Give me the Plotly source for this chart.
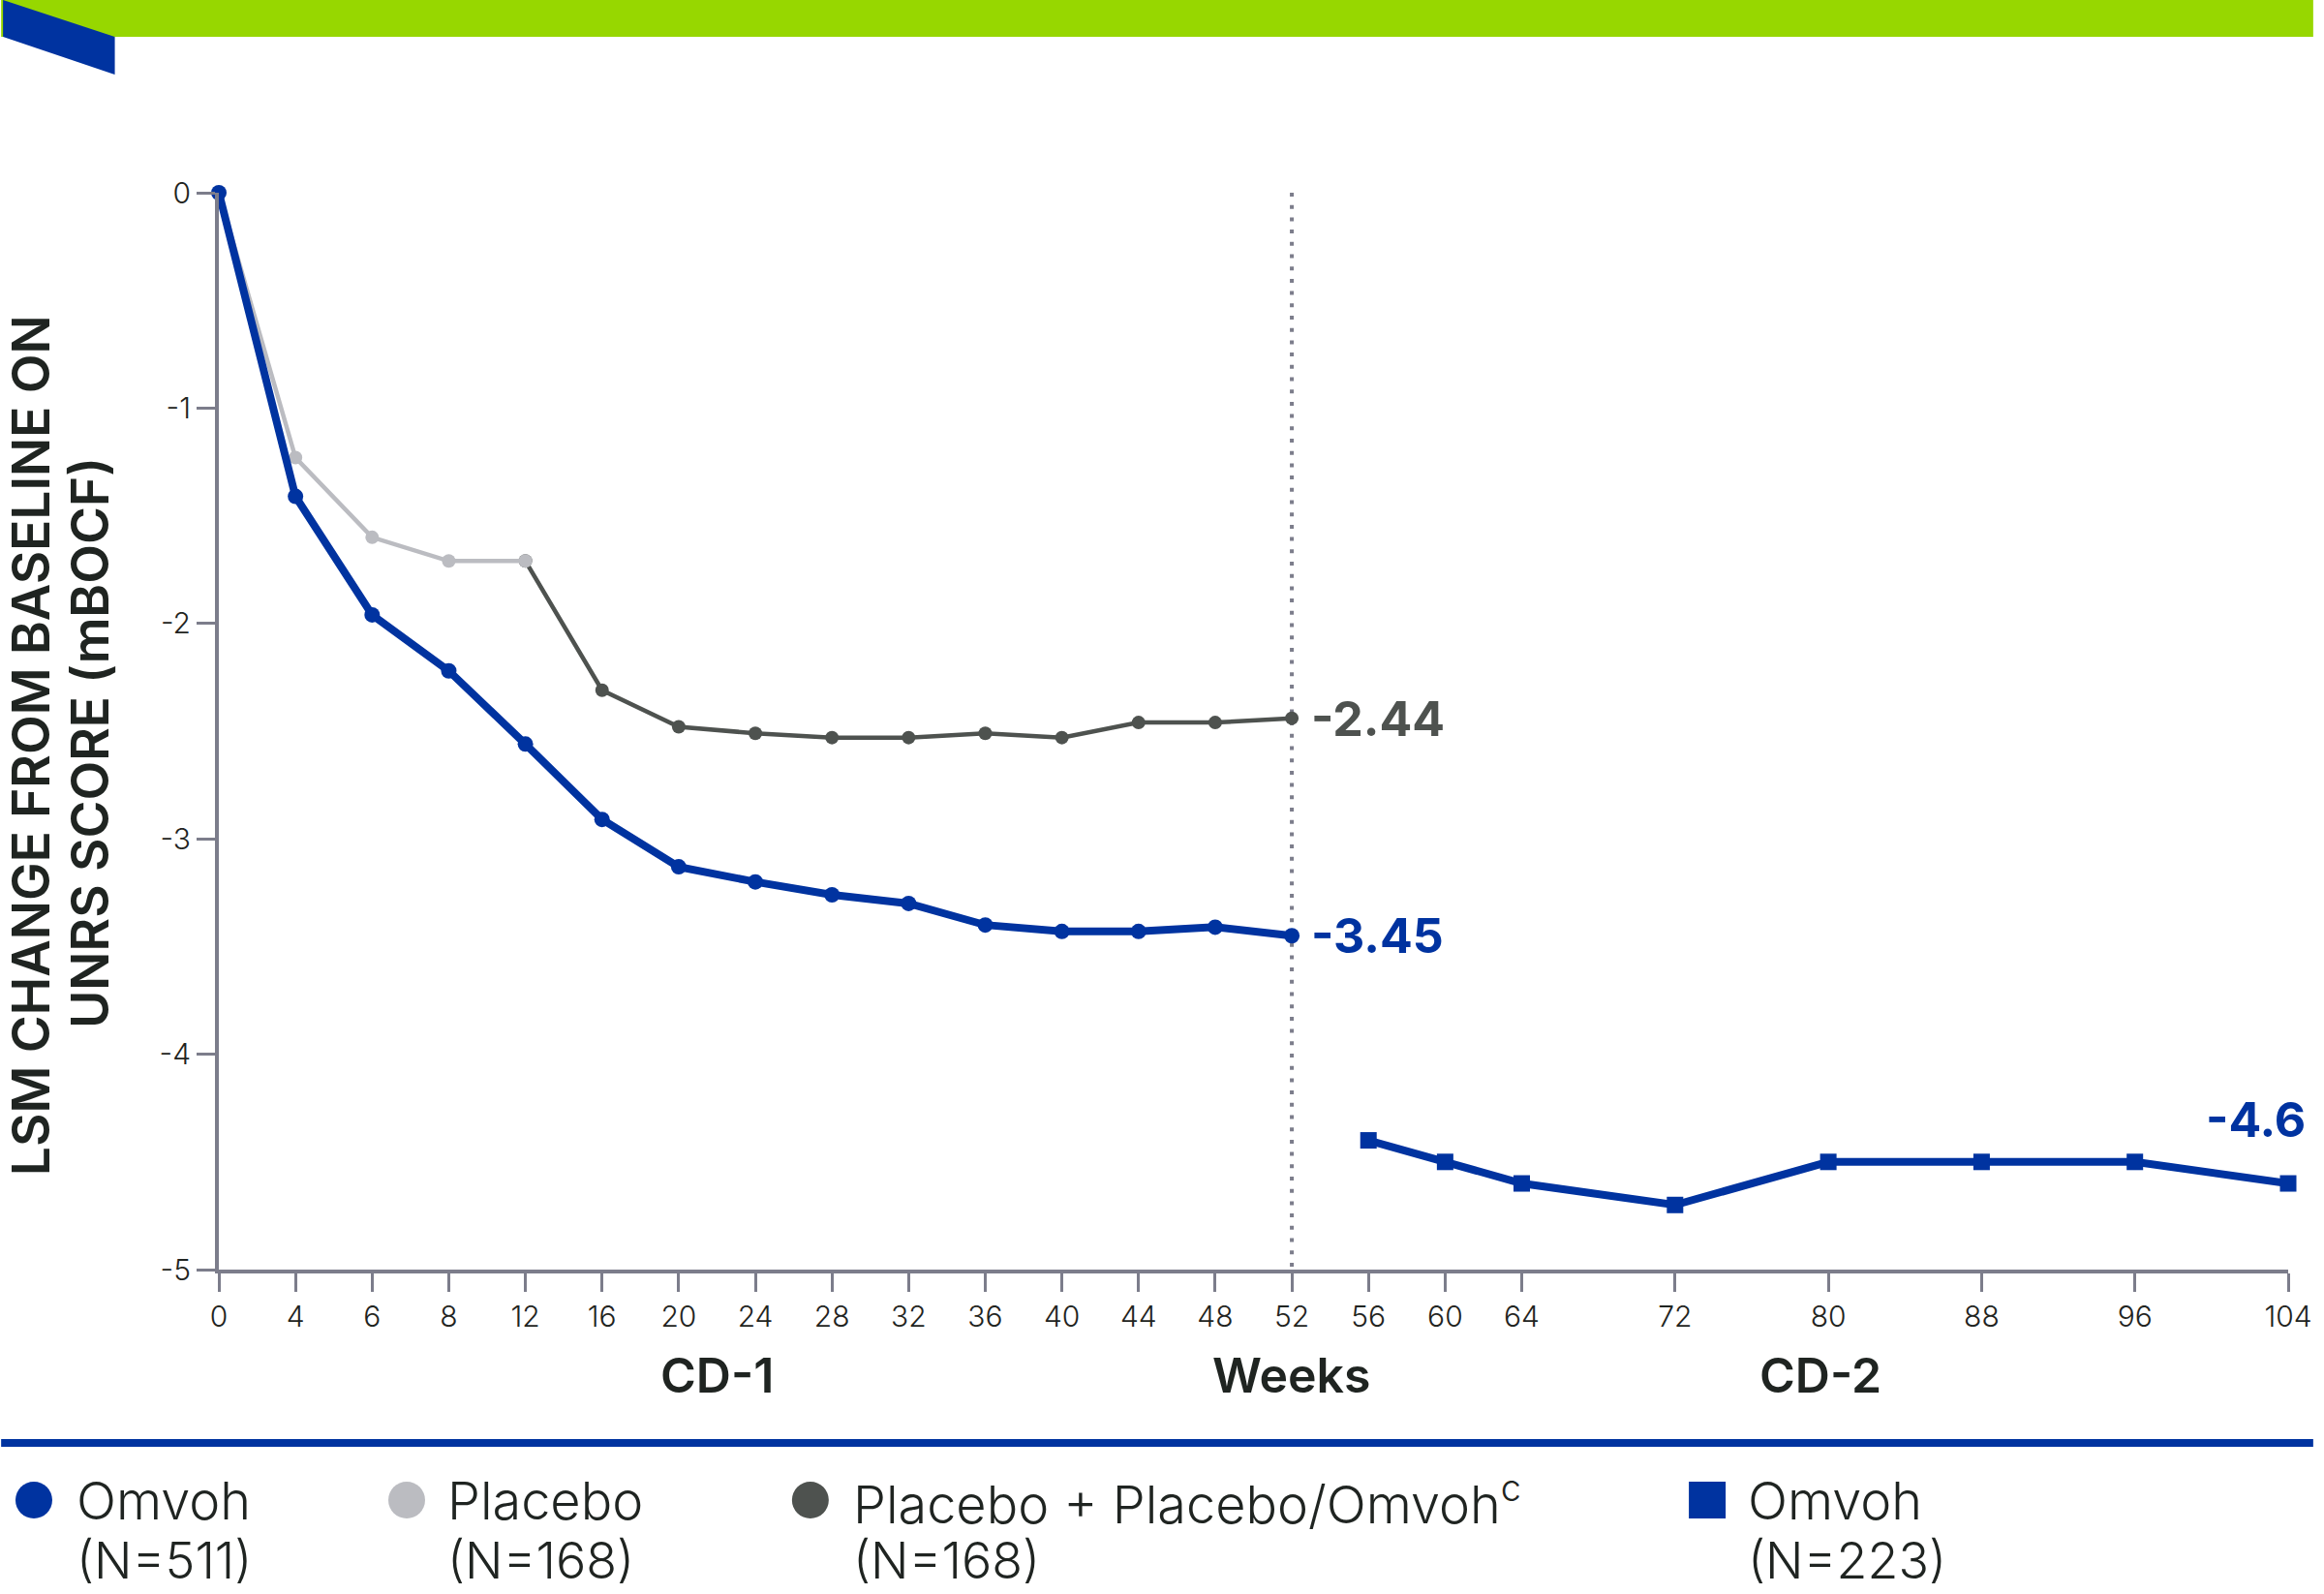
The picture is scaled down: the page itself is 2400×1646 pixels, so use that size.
import plotly.graph_objects as go

# ---- data ----
CD1_WEEKS = [0, 4, 6, 8, 12, 16, 20, 24, 28, 32, 36, 40, 44, 48, 52]
OMVOH_CD1 = [0, -1.41, -1.96, -2.22, -2.56, -2.91, -3.13, -3.20, -3.26, -3.30,
             -3.40, -3.43, -3.43, -3.41, -3.45]

PLACEBO_WEEKS = [0, 4, 6, 8, 12]
PLACEBO = [0, -1.23, -1.60, -1.71, -1.71]

PBO_OMV_WEEKS = [12, 16, 20, 24, 28, 32, 36, 40, 44, 48, 52]
PBO_OMV = [-1.71, -2.31, -2.48, -2.51, -2.53, -2.53, -2.51, -2.53, -2.46, -2.46, -2.44]

CD2_WEEKS = [56, 60, 64, 72, 80, 88, 96, 104]
OMVOH_CD2 = [-4.4, -4.5, -4.6, -4.7, -4.5, -4.5, -4.5, -4.6]

TICK_WEEKS = CD1_WEEKS + CD2_WEEKS
Y_TICKS = [0, -1, -2, -3, -4, -5]

LEGEND_NAMES = ["Omvoh", "Placebo", "Placebo + Placebo/Omvoh<sup>c</sup>", "Omvoh"]
LEGEND_N = [511, 168, 168, 223]

BLUE = "#0033A0"
GREEN = "#97D700"
LIGHT = "#BBBCC1"
DARK = "#4E524F"
AXIS = "#7C7D8B"
TEXT = "#1F2421"
FONT = "Inter, Lato, Open Sans, sans-serif"

W, H = 2400, 1646
L, R, T, B = 226, 26, 199, 335


def week_pos(w):
    # CD-1 weeks are evenly spaced as categories, CD-2 is scaled 4 weeks per slot
    if w <= 52:
        return CD1_WEEKS.index(w)
    return CD1_WEEKS.index(52) + (w - 52) / 4


def px_x(px):
    return (px - L) / (W - L - R)


def px_y(py):
    return (H - B - py) / (H - T - B)


fig = go.Figure()

fig.add_trace(go.Scatter(
    x=[week_pos(w) for w in PBO_OMV_WEEKS], y=PBO_OMV, mode="lines+markers",
    line=dict(color=DARK, width=4.5), marker=dict(color=DARK, size=14),
    cliponaxis=False, showlegend=False,
))
fig.add_trace(go.Scatter(
    x=[week_pos(w) for w in PLACEBO_WEEKS], y=PLACEBO, mode="lines+markers",
    line=dict(color=LIGHT, width=4.5), marker=dict(color=LIGHT, size=14),
    cliponaxis=False, showlegend=False,
))
fig.add_trace(go.Scatter(
    x=[week_pos(w) for w in CD1_WEEKS], y=OMVOH_CD1, mode="lines+markers",
    line=dict(color=BLUE, width=8), marker=dict(color=BLUE, size=16),
    cliponaxis=False, showlegend=False,
))
fig.add_trace(go.Scatter(
    x=[week_pos(w) for w in CD2_WEEKS], y=OMVOH_CD2, mode="lines+markers",
    line=dict(color=BLUE, width=8), marker=dict(color=BLUE, size=17, symbol="square"),
    cliponaxis=False, showlegend=False,
))

shapes = [
    # week 52 divider
    dict(type="line", xref="x", yref="y", x0=week_pos(52), x1=week_pos(52), y0=0, y1=-5,
         line=dict(color=AXIS, width=4, dash="4px,8.7px"), layer="below"),
    # header band
    dict(type="rect", xref="paper", yref="paper", x0=px_x(0), x1=px_x(W),
         y0=px_y(38), y1=px_y(0), fillcolor=GREEN, line_width=0),
    dict(type="path", xref="paper", yref="paper",
         path=(f"M {px_x(2)},{px_y(0)} L {px_x(118)},{px_y(38)} "
               f"L {px_x(118)},{px_y(77)} L {px_x(2)},{px_y(38)} Z"),
         fillcolor=BLUE, line_width=0),
    # separator above legend
    dict(type="rect", xref="paper", yref="paper", x0=px_x(0), x1=px_x(W),
         y0=px_y(1494), y1=px_y(1486), fillcolor=BLUE, line_width=0),
]

annotations = [
    dict(text="-2.44", x=week_pos(52), y=PBO_OMV[-1], xref="x", yref="y",
         xanchor="left", yanchor="middle", xshift=18, showarrow=False,
         font=dict(size=50, color=DARK, family=FONT, weight="bold")),
    dict(text="-3.45", x=week_pos(52), y=OMVOH_CD1[-1], xref="x", yref="y",
         xanchor="left", yanchor="middle", xshift=18, showarrow=False,
         font=dict(size=50, color=BLUE, family=FONT, weight="bold")),
    dict(text="-4.6", x=week_pos(104), y=OMVOH_CD2[-1], xref="x", yref="y",
         xanchor="right", yanchor="middle", xshift=20, yshift=66, showarrow=False,
         font=dict(size=50, color=BLUE, family=FONT, weight="bold")),
    dict(text="CD-1", x=6.5, y=px_y(1420), xref="x", yref="paper",
         xanchor="center", yanchor="middle",
         showarrow=False, font=dict(size=50, color=TEXT, family=FONT, weight=600)),
    dict(text="Weeks", x=week_pos(52), y=px_y(1420), xref="x", yref="paper",
         xanchor="center", yanchor="middle",
         showarrow=False, font=dict(size=50, color=TEXT, family=FONT, weight=600)),
    dict(text="CD-2", x=20.9, y=px_y(1420), xref="x", yref="paper",
         xanchor="center", yanchor="middle",
         showarrow=False, font=dict(size=50, color=TEXT, family=FONT, weight=600)),
    dict(text="LSM CHANGE FROM BASELINE ON",
         x=px_x(31), y=px_y(769), xref="paper", yref="paper", textangle=-90,
         xanchor="center", yanchor="middle", showarrow=False,
         font=dict(size=53, color=TEXT, family=FONT, weight=600)),
    dict(text="UNRS SCORE (mBOCF)",
         x=px_x(92), y=px_y(767), xref="paper", yref="paper", textangle=-90,
         xanchor="center", yanchor="middle", showarrow=False,
         font=dict(size=53, color=TEXT, family=FONT, weight=600)),
]

# legend built by hand: symbol, name line and N line
legend_sym_x = [34, 421, 840, 1771]
legend_txt_x = [81, 466, 887, 1816]
legend_cols = [BLUE, LIGHT, DARK, BLUE]
legend_kind = ["circle", "circle", "circle", "rect"]
for name, n, sx, tx, col, kind in zip(LEGEND_NAMES, LEGEND_N, legend_sym_x,
                                       legend_txt_x, legend_cols, legend_kind):
    shapes.append(dict(type=kind, xref="paper", yref="paper",
                       xsizemode="pixel", ysizemode="pixel",
                       xanchor=px_x(sx), yanchor=px_y(1549),
                       x0=-19, x1=19, y0=-19, y1=19,
                       fillcolor=col, line_width=0))
    annotations.append(dict(text=name, x=px_x(tx), y=px_y(1550),
                            xref="paper", yref="paper", xanchor="left", yanchor="middle",
                            xshift=-5, showarrow=False,
                            font=dict(size=54, color=TEXT, family=FONT, weight=300)))
    annotations.append(dict(text=f"(N={n})", x=px_x(tx), y=px_y(1611),
                            xref="paper", yref="paper", xanchor="left", yanchor="middle",
                            xshift=-5, showarrow=False,
                            font=dict(size=52, color=TEXT, family=FONT, weight=300)))

fig.update_layout(
    width=W, height=H,
    margin=dict(l=L, r=R, t=T, b=B),
    paper_bgcolor="white", plot_bgcolor="white",
    showlegend=False,
    xaxis=dict(
        range=[0, week_pos(104)],
        tickvals=[week_pos(w) for w in TICK_WEEKS],
        ticktext=[str(w) for w in TICK_WEEKS],
        showgrid=False, zeroline=False,
        showline=True, linecolor=AXIS, linewidth=4,
        ticks="outside", ticklen=19, tickwidth=3, tickcolor=AXIS,
        tickfont=dict(size=30, color=TEXT, family=FONT, weight=300),
    ),
    yaxis=dict(
        range=[-5, 0],
        tickvals=Y_TICKS,
        ticktext=[str(v) for v in Y_TICKS],
        showgrid=False, zeroline=False,
        showline=True, linecolor=AXIS, linewidth=4,
        ticks="outside", ticklen=19, tickwidth=3, tickcolor=AXIS,
        tickfont=dict(size=30, color=TEXT, family=FONT, weight=300),
    ),
    shapes=shapes,
    annotations=annotations,
)

# drop the browser's default body margin and scrollbars so the figure fills the page
fig.write_html(
    "out.html",
    config={"displayModeBar": False},
    post_script="document.body.style.margin = '0'; document.body.style.overflow = 'hidden';",
)
